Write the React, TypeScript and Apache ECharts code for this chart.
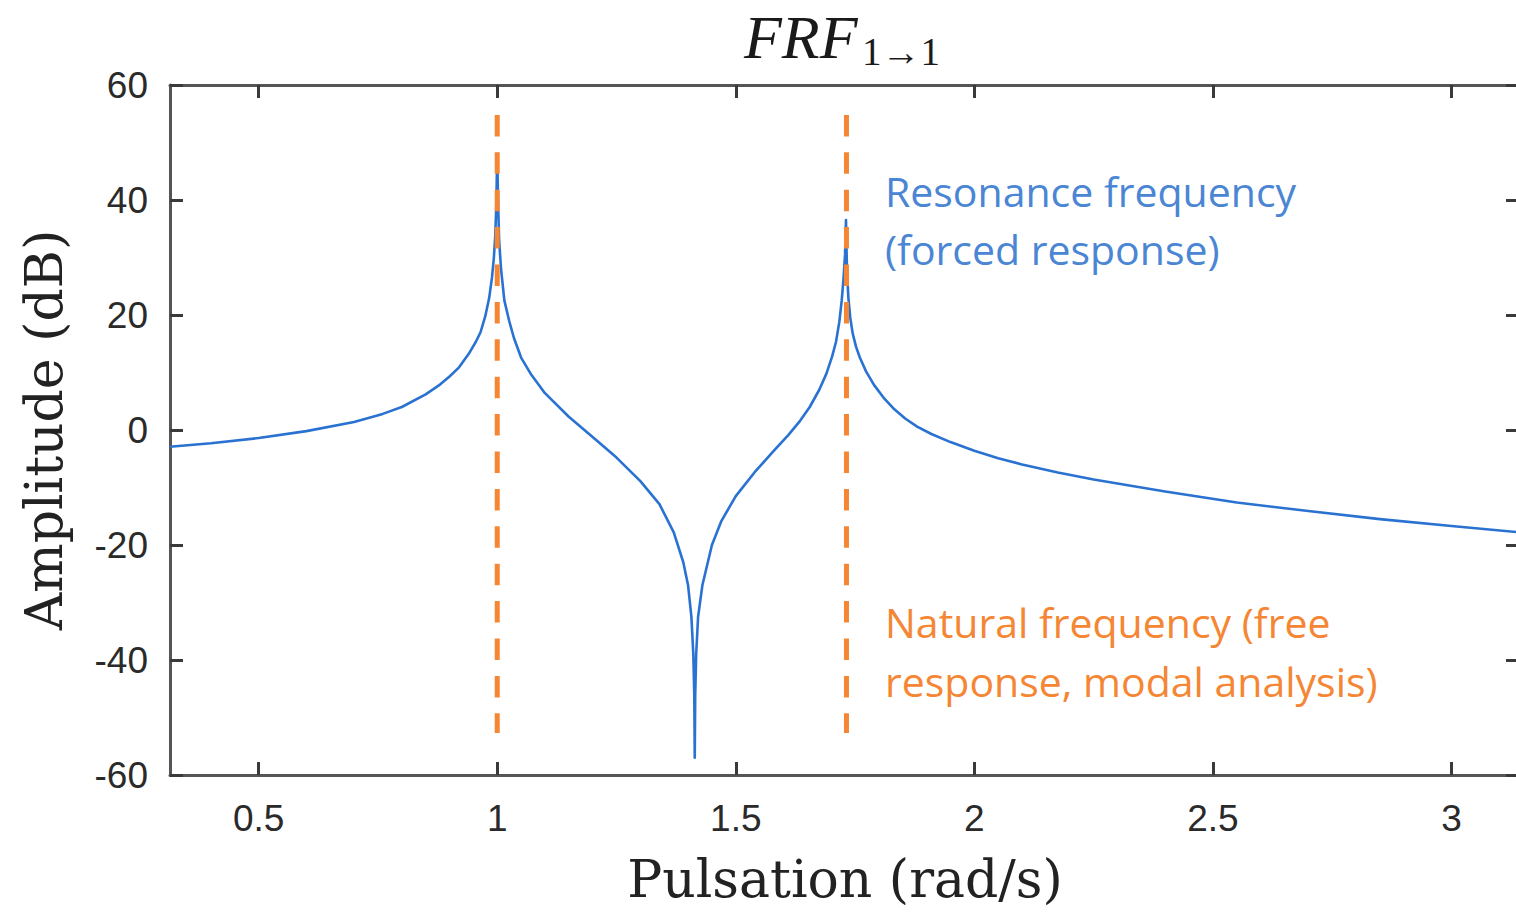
import React, { useEffect, useRef } from "react";
import * as echarts from "echarts";

// Pulsation (rad/s) and amplitude (dB)
const omega = [
  0.31416, 0.4, 0.5, 0.6, 0.7, 0.76, 0.8, 0.85, 0.88, 0.9, 0.92, 0.94, 0.955, 0.965, 0.975, 0.983, 0.989, 0.993,
  0.996, 0.998, 1.0,
  1.002, 1.004, 1.008, 1.015, 1.025, 1.035, 1.05, 1.07, 1.1, 1.15, 1.2, 1.25, 1.3, 1.34, 1.37, 1.39, 1.4, 1.407,
  1.411, 1.413, 1.414, 1.415, 1.417, 1.421, 1.43, 1.45, 1.47, 1.5, 1.54, 1.58, 1.61, 1.633, 1.655, 1.675, 1.69,
  1.702, 1.71, 1.717, 1.722, 1.726, 1.729, 1.731,
  1.733, 1.736, 1.74, 1.745, 1.752, 1.76, 1.773, 1.79, 1.81, 1.83, 1.855, 1.88, 1.91, 1.95, 2.0, 2.05, 2.1, 2.175,
  2.25, 2.4, 2.55, 2.7, 2.85, 3.0, 3.14159,
];
const amplitude = [
  -2.9, -2.3, -1.4, -0.2, 1.4, 2.8, 4.0, 6.2, 7.9, 9.3, 10.9, 13.2, 15.3, 17.0, 19.8, 22.9, 26.5, 30.0,
  34.0, 39.0, 48.0,
  39.0, 33.0, 28.0, 22.5, 19.0, 16.0, 12.6, 9.8, 6.4, 2.3, -1.2, -4.8, -8.9, -12.9, -17.8, -23.0, -27.0, -32.5,
  -39.0, -46.0, -57.0, -46.0, -39.0, -32.5, -27.0, -20.0, -15.8, -11.5, -7.3, -3.6, -0.9, 1.4, 4.0, 7.0, 9.8,
  12.8, 15.3, 18.8, 22.5, 26.5, 30.5, 36.5,
  28.0, 23.0, 19.5, 16.8, 14.5, 12.6, 10.2, 7.8, 5.6, 3.8, 2.0, 0.6, -0.7, -2.1, -3.6, -4.9, -6.0, -7.4,
  -8.6, -10.7, -12.6, -14.1, -15.5, -16.7, -17.8,
];

// Marked frequencies (vertical dashed lines) and their extent in dB
const naturalFreqs = [1.0, 1.732];
const dashedExtent = [54.8, -52.7];

const xTicks = [0.5, 1, 1.5, 2, 2.5, 3];
const xMin = 0.31416;
const xMax = 3.14159;
const yMin = -60;
const yMax = 60;
const yStep = 20;

const titleMain = "FRF";
const titleSub = "1→1";
const xName = "Pulsation (rad/s)";
const yName = "Amplitude (dB)";
const blueNote = ["Resonance frequency", "(forced response)"];
const orangeNote = ["Natural frequency (free", "response, modal analysis)"];

const AXIS_COLOR = "#555555";
const LABEL_COLOR = "#2a2a2a";
const CURVE_COLOR = "#2a72d2";
const ORANGE = "#f58634";
const BLUE_TEXT = "#4a86d4";

export default function App() {
  const ref = useRef<HTMLDivElement>(null);

  useEffect(() => {
    if (!ref.current) return;
    const chart = echarts.init(ref.current, undefined, { renderer: "svg" });

    const curve = omega.map((w, i) => [w, amplitude[i]]);
    const dashedSeries = naturalFreqs.map((f) => ({
      type: "line",
      xAxisIndex: 0,
      yAxisIndex: 0,
      data: [
        [f, dashedExtent[0]],
        [f, dashedExtent[1]],
      ],
      showSymbol: false,
      symbol: "none",
      lineStyle: { color: ORANGE, width: 5, type: [21.5, 15.9], cap: "butt" },
      z: 4,
    }));

    const tickLabel = {
      fontFamily: "Liberation Sans",
      fontSize: 37,
      color: LABEL_COLOR,
    };
    const axisLine = { show: true, onZero: false, lineStyle: { color: AXIS_COLOR, width: 3 } };
    const tickStyle = { color: "#3a3a3a", width: 3 };

    chart.setOption({
      animation: false,
      backgroundColor: "#ffffff",
      // chart canvas is 1526 wide and clipped at 1516, so the right frame edge falls just outside the picture
      grid: { left: 170, right: 7, top: 85, bottom: 138, containLabel: false },
      xAxis: [
        {
          type: "value",
          position: "bottom",
          min: xMin,
          max: xMax,
          axisLine,
          axisTick: { show: true, inside: true, length: 13, lineStyle: tickStyle, customValues: xTicks },
          axisLabel: { ...tickLabel, margin: 25, customValues: xTicks, formatter: (v: number) => String(v) },
          splitLine: { show: false },
        },
        {
          type: "value",
          position: "top",
          min: xMin,
          max: xMax,
          axisLine,
          axisTick: { show: true, inside: true, length: 13, lineStyle: tickStyle, customValues: xTicks },
          axisLabel: { show: false },
          splitLine: { show: false },
        },
      ],
      yAxis: [
        {
          type: "value",
          position: "left",
          min: yMin,
          max: yMax,
          interval: yStep,
          axisLine,
          axisTick: { show: true, inside: true, length: 13, lineStyle: tickStyle },
          axisLabel: { ...tickLabel, margin: 22 },
          splitLine: { show: false },
        },
        {
          type: "value",
          position: "right",
          min: yMin,
          max: yMax,
          interval: yStep,
          axisLine,
          axisTick: { show: true, inside: true, length: 13, lineStyle: tickStyle },
          axisLabel: { show: false },
          splitLine: { show: false },
        },
      ],
      series: [
        {
          type: "line",
          xAxisIndex: 0,
          yAxisIndex: 0,
          data: curve,
          showSymbol: false,
          symbol: "none",
          smooth: false,
          lineStyle: { color: CURVE_COLOR, width: 2.6, join: "round" },
          z: 3,
        },
        ...dashedSeries,
      ],
      graphic: [
        {
          type: "text",
          x: 744,
          y: 37,
          style: {
            text: titleMain,
            font: 'italic 62px "Liberation Serif"',
            fill: "#1a1a1a",
            textAlign: "left",
            textVerticalAlign: "middle",
          },
        },
        {
          type: "text",
          x: 862,
          y: 51,
          style: {
            text: titleSub,
            font: '39px "Liberation Serif"',
            fill: "#1a1a1a",
            textAlign: "left",
            textVerticalAlign: "middle",
          },
        },
        {
          type: "text",
          x: 845,
          y: 879,
          style: {
            text: xName,
            font: '52px "DejaVu Serif"',
            fill: "#222222",
            textAlign: "center",
            textVerticalAlign: "middle",
          },
        },
        {
          type: "text",
          x: 44,
          y: 430,
          rotation: Math.PI / 2,
          style: {
            text: yName,
            font: '52px "DejaVu Serif"',
            fill: "#222222",
            textAlign: "center",
            textVerticalAlign: "middle",
          },
        },
        ...blueNote.map((t, i) => ({
          type: "text",
          x: 885,
          y: 191 + i * 58,
          style: {
            text: t,
            font: '41px "Open Sans"',
            fill: BLUE_TEXT,
            textAlign: "left",
            textVerticalAlign: "middle",
          },
        })),
        ...orangeNote.map((t, i) => ({
          type: "text",
          x: 885,
          y: 622 + i * 59,
          style: {
            text: t,
            font: '41px "Open Sans"',
            fill: ORANGE,
            textAlign: "left",
            textVerticalAlign: "middle",
          },
        })),
      ],
    });

    return () => chart.dispose();
  }, []);

  return (
    <div
      style={{
        position: "absolute",
        left: 0,
        top: 0,
        width: 1516,
        height: 913,
        overflow: "hidden",
        background: "#fff",
      }}
    >
      <div ref={ref} style={{ width: 1526, height: 913 }} />
    </div>
  );
}
